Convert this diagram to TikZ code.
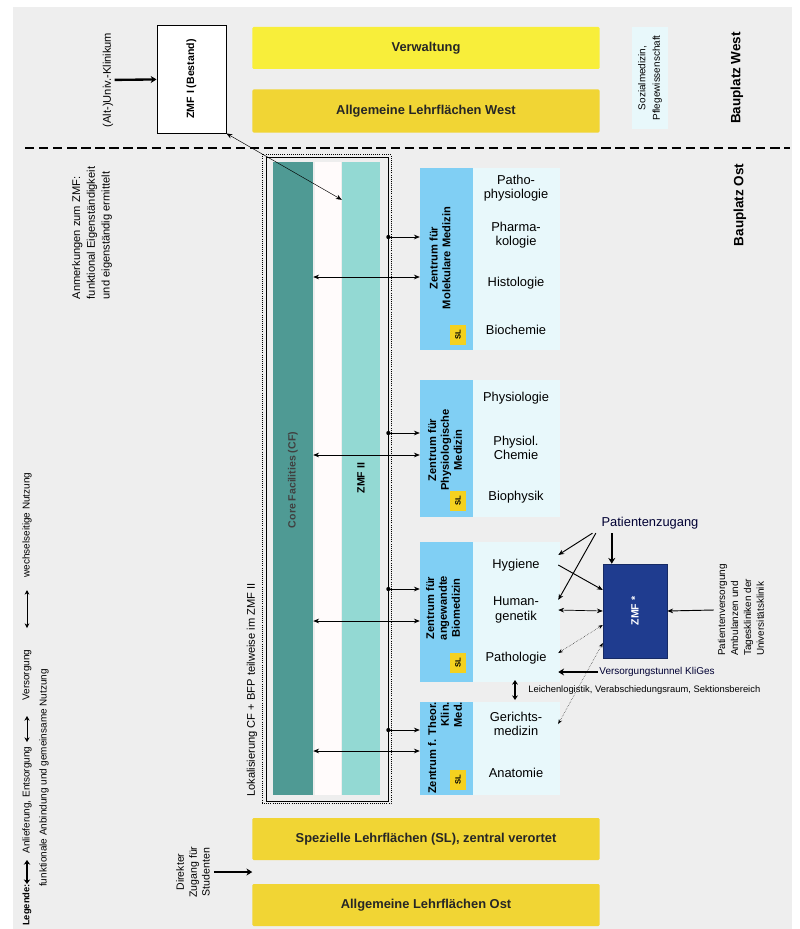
\documentclass[tikz,border=0pt]{standalone}
\usepackage{fontspec}
\setmainfont{Liberation Sans}
\usepackage{graphicx}
\usepackage{tikz}
\usepackage{xcolor}
\usetikzlibrary{positioning,arrows.meta,calc}

\definecolor{hgrau}{HTML}{EEEEEE}
\definecolor{gelbhell}{HTML}{F8EE3A}
\definecolor{gelb}{HTML}{F1D534}
\definecolor{cfgruen}{HTML}{4F9A94}
\definecolor{zmfgruen}{HTML}{93D9D3}
\definecolor{zblau}{HTML}{80CFF4}
\definecolor{panel}{HTML}{E8F8FB}
\definecolor{navy}{HTML}{1F3C8F}
\definecolor{slgelb}{HTML}{F4D11F}

\begin{document}
\begin{tikzpicture}[
  x=0.03cm, y=-0.03cm,
  >=Stealth,
  balken/.style={fill=#1, rounded corners=1pt, minimum width=10.41cm, minimum height=1.26cm, font=\bfseries\fontsize{11}{13}\selectfont, text=black!85},
  titel/.style={font=\bfseries\fontsize{11.5}{13}\selectfont},
  notiz/.style={font=\fontsize{9.5}{12.5}\selectfont, align=left, inner sep=1pt},
  zbox/.style={fill=zblau, minimum width=1.59cm},
  zlab/.style={rotate=90, align=center, font=\bfseries\fontsize{9.5}{11}\selectfont},
  flaeche/.style={fill=panel, minimum width=2.61cm},
  fach/.style={minimum width=2.52cm, align=center, inner sep=1pt, font=\fontsize{11}{12.5}\selectfont},
  sl/.style={fill=slgelb, minimum width=0.48cm, minimum height=0.6cm, inner sep=0pt, font=\bfseries\fontsize{6.5}{7}\selectfont},
  pfeil/.style={->, semithick, >={Stealth[length=5pt,width=4pt]}},
  dpfeil/.style={<->, semithick, >={Stealth[length=5pt,width=4pt]}},
  dick/.style={->, line width=2pt, >={Stealth[length=5pt,width=6pt]}},
  punkt/.style={<->, densely dotted, thin, >={Stealth[length=4pt,width=3pt]}},
  leg/.style={rotate=90, font=\fontsize{8.5}{10}\selectfont, inner sep=1pt}
]
  \useasboundingbox (0,0) rectangle (799,929);
  \fill[hgrau] (13,7) rectangle (792,929);

  % Bauplatz West
  \node[balken=gelbhell] (verw) at (426,48) {Verwaltung};
  \node[balken=gelb, minimum height=1.29cm] (alw) at (426,111) {Allgemeine Lehrflächen West};
  \node[draw=black, thick, fill=white, minimum width=2.07cm, minimum height=3.24cm, font=\bfseries\fontsize{9}{11}\selectfont] (zmfI) at (191.5,79) {\rotatebox{90}{ZMF I (Bestand)}};
  \node[notiz] (ukl) at (108,80) {\rotatebox{90}{(Alt-)Univ.-Klinikum}};
  \draw[dick] (ukl) -- (zmfI);
  \node[fill=panel, minimum width=1.08cm, minimum height=3.06cm, inner sep=0pt] (soz) at (650,78) {};
  \node[rotate=90, align=center, font=\fontsize{8.5}{12.5}\selectfont] (sozlab) at (650,78) {Sozialmedizin,\\Pflegewissenschaft};
  \node[titel] (bpw) at (737,78) {\rotatebox{90}{Bauplatz West}};

  \draw[line width=1.1pt, dash pattern=on 8pt off 4pt] (25,148) -- (790,148);

  % Bauplatz Ost
  \node[titel] (bpo) at (740,205) {\rotatebox{90}{Bauplatz Ost}};
  \node[notiz, rotate=90] (anm) at (92,233) {Anmerkungen zum ZMF:\\funktional Eigenständigkeit\\und eigenständig ermittelt};

  % ZMF II / Core Facilities
  \fill[white!70!pink!20] (315,162) rectangle (341,795);
  \node[fill=cfgruen, minimum width=1.2cm, minimum height=18.99cm, inner sep=0pt] (cf) at (293,478.5) {};
  \node[fill=zmfgruen, minimum width=1.14cm, minimum height=18.99cm, inner sep=0pt] (zmfII) at (361,478.5) {};
  \node[font=\bfseries\fontsize{9}{11}\selectfont, text=black!75] (cflab) at (293,480) {\rotatebox{90}{Core Facilities (CF)}};
  \node[font=\bfseries\fontsize{9}{11}\selectfont] (zmfIIlab) at (361,478) {\rotatebox{90}{ZMF II}};
  \node[draw=black, semithick, minimum width=3.66cm, minimum height=19.32cm] (rahmen) at (327,479) {};
  \node[draw=black, densely dotted, thick, minimum width=3.87cm, minimum height=19.47cm] (rahmenp) at (326.5,479) {};
  \node[notiz] (lok) at (252,690) {\rotatebox{90}{Lokalisierung CF + BFP teilweise im ZMF II}};
  \draw[dpfeil, thin] (zmfI.south east) -- ([yshift=-1.14cm]zmfII.north west);

  % Zentren
  \node[flaeche, minimum height=5.46cm] (fmm) at (516.5,259) {};
  \node[flaeche, minimum height=4.11cm] (fpm) at (516.5,448.5) {};
  \node[flaeche, minimum height=4.2cm] (fab) at (516.5,612) {};
  \node[flaeche, minimum height=2.79cm] (ftk) at (516.5,748.5) {};
  \node[zbox, minimum height=5.46cm] (zmm) at (446.5,259) {};
  \node[zbox, minimum height=4.11cm] (zpm) at (446.5,448.5) {};
  \node[zbox, minimum height=4.2cm] (zab) at (446.5,612) {};
  \node[zbox, minimum height=2.79cm] (ztk) at (446.5,748.5) {};
  \node[zlab] (zmmlab) at (440,258) {Zentrum für\\Molekulare Medizin};
  \node[zlab] (zpmlab) at (445,450) {Zentrum für\\Physiologische\\Medizin};
  \node[zlab] (zablab) at (443,608) {Zentrum für\\angewandte\\Biomedizin};
  \node[zlab, align=right] (ztklab) at (445,748) {Zentrum f. Theor.\\Klin.\\Med.};
  \node[sl] (slmm) at (458,335) {\rotatebox{90}{SL}};
  \node[sl] (slpm) at (458,501) {\rotatebox{90}{SL}};
  \node[sl] (slab) at (458,663) {\rotatebox{90}{SL}};
  \node[sl] (sltk) at (458,780) {\rotatebox{90}{SL}};

  % Faecher
  \node[fach] (patho) at (516,188) {Patho-\\physiologie};
  \node[fach] (pharma) at (516,235) {Pharma-\\kologie};
  \node[fach] (histo) at (516,283) {Histologie};
  \node[fach] (bioch) at (516,330) {Biochemie};
  \node[fach] (physio) at (516,398) {Physiologie};
  \node[fach] (pchem) at (516,448) {Physiol.\\Chemie};
  \node[fach] (bioph) at (516,497) {Biophysik};
  \node[fach] (hyg) at (516,565) {Hygiene};
  \node[fach] (hum) at (516,610) {Human-\\genetik};
  \node[fach] (path) at (516,658) {Pathologie};
  \node[fach] (ger) at (516,724) {Gerichts-\\medizin};
  \node[fach] (anat) at (516,773) {Anatomie};

  % Anbindung ZMF II / CF an die Zentren
  \draw[pfeil] (rahmen.east |- 0,237) -- (zmm.west |- 0,237);
  \draw[dpfeil] (cf.east |- 0,277) -- (zmm.west |- 0,277);
  \draw[pfeil] (rahmen.east |- 0,433) -- (zpm.west |- 0,433);
  \draw[dpfeil] (cf.east |- 0,455) -- (zpm.west |- 0,455);
  \draw[pfeil] (rahmen.east |- 0,589) -- (zab.west |- 0,589);
  \draw[dpfeil] (cf.east |- 0,621) -- (zab.west |- 0,621);
  \draw[pfeil] (rahmen.east |- 0,730) -- (ztk.west |- 0,730);
  \draw[dpfeil] (cf.east |- 0,751) -- (ztk.west |- 0,751);
  \foreach \yy in {237,433,589,730}
    \fill (rahmen.east |- 0,\yy) circle (1.8pt);

  % ZMF*
  \node[fill=navy, draw=navy!70!black, minimum width=1.92cm, minimum height=2.82cm, text=white, font=\bfseries\fontsize{9}{11}\selectfont] (zmfs) at (635,611) {\rotatebox{90}{ZMF *}};
  \node[font=\fontsize{11}{13}\selectfont, text=black!80!blue] (pz) at (650,523) {Patientenzugang};
  \draw[dick] (pz.south -| zmfs.north west) ++(9,0) coordinate (pzs) -- (pzs |- zmfs.north);
  \draw[pfeil, thick] ([xshift=-0.15cm]pz.south west) -- ([yshift=0.3cm]hyg.east);
  \draw[pfeil, thick] ([xshift=-0.05cm]pz.south west) -- ([yshift=0.3cm]hum.east);
  \draw[pfeil, thick] (hyg.east) -- ([yshift=0.63cm]zmfs.west);
  \draw[dpfeil] (hum.east) -- (zmfs.west);
  \draw[punkt] ([yshift=0.15cm]path.east) -- ([yshift=-0.42cm]zmfs.west);
  \draw[punkt] (ger.east) -- ([yshift=-0.96cm]zmfs.west);
  \node[anchor=west, font=\fontsize{8.5}{10}\selectfont, text=black!80!blue, inner sep=1pt] (vt) at (598,672) {Versorgungstunnel KliGes};
  \draw[dick] (vt.west) -- (vt.west -| path.east);
  \node[anchor=west, font=\fontsize{8}{10}\selectfont, inner sep=1pt] (lei) at (527,690) {Leichenlogistik, Verabschiedungsraum, Sektionsbereich};
  \draw[<->, line width=1.5pt, >={Stealth[length=4pt,width=5pt]}] ([xshift=-0.36cm,yshift=0.3cm]lei.west) -- ([xshift=-0.36cm,yshift=-0.3cm]lei.west);
  \node[rotate=90, align=left, font=\fontsize{8.5}{11}\selectfont] (rt) at (741,610) {Patientenversorgung\\Ambulanzen und\\Tageskliniken der\\Universitätsklinik};
  \draw[pfeil, thick] (rt.north) -- (zmfs.east);

  % Bauplatz Ost, Lehrflaechen
  \node[balken=gelb] (spez) at (426,839) {Spezielle Lehrflächen (SL), zentral verortet};
  \node[balken=gelb] (alo) at (426,905) {Allgemeine Lehrflächen Ost};
  \node[rotate=90, align=center, font=\fontsize{9}{11}\selectfont] (dz) at (193,872) {Direkter\\Zugang für\\Studenten};
  \draw[dick] (dz.south) -- (dz.south -| spez.west);

  % Legende
  \node[leg, font=\bfseries\fontsize{8}{10}\selectfont] (leg0) at (27,905) {Legende:};
  \draw[<->, line width=1.8pt, >={Stealth[length=4pt,width=5.5pt]}] (27,884) -- (27,860);
  \node[leg] (leg1) at (27,800) {Anlieferung, Entsorgung};
  \draw[<->, thick, >={Stealth[length=4pt,width=4.5pt]}] (27,742) -- (27,716);
  \node[leg] (leg2) at (27,675) {Versorgung};
  \draw[<->, semithick, >={Stealth[length=4pt,width=4pt]}] (27,628) -- (27,590);
  \node[leg] (leg3) at (27,525) {wechselseitige Nutzung};
  \node[leg] (leg4) at (44,778) {funktionale Anbindung und gemeinsame Nutzung};
\end{tikzpicture}
\end{document}
